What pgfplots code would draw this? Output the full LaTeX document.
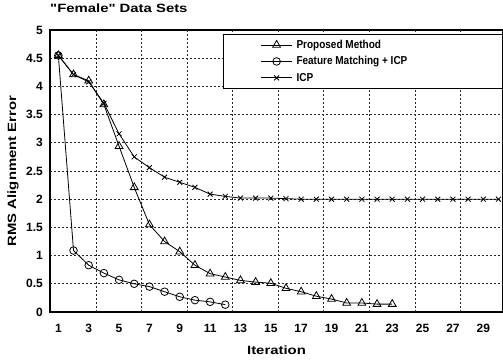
\documentclass[border=0pt]{standalone}
\usepackage{fontspec}
\setmainfont{Liberation Sans}
\newfontfamily\widefont{Liberation Sans}[FakeStretch=1.24]
\newfontfamily\narrowfont{Liberation Sans}[FakeStretch=0.87]
\usepackage{pgfplots}
\pgfplotsset{compat=1.18}
\begin{document}
\begin{tikzpicture}
\begin{axis}[
  name=ax, at={(0pt,0pt)}, anchor=south west,
  scale only axis, width=453pt, height=282pt,
  xmin=0.45, xmax=30.3, ymin=0, ymax=5,
  xtick={1,3,...,29}, ytick={0,0.5,...,5},
  major tick length=0pt,
  /pgf/number format/assume math mode=true,
  ticklabel style={font=\fontsize{12}{12}\selectfont\bfseries},
  xticklabel style={inner sep=0pt, anchor=north, yshift=-12pt},
  yticklabel style={inner sep=0pt, anchor=east, xshift=-7pt},
  ymajorgrids, xmajorgrids=false,
  extra x ticks={3.5,6.5,...,27.5}, extra x tick labels={},
  extra x tick style={xmajorgrids=true, major tick length=0pt},
  grid style={black!85, line width=0.9pt, dash pattern=on 1.6pt off 2.4pt},
  axis line style={line width=1.2pt},
  title={\widefont\bfseries\fontsize{12}{12}\selectfont "Female" Data Sets},
  title style={at={(0,1)}, anchor=base west, yshift=12pt, inner sep=0pt},
  xlabel={\widefont\bfseries\fontsize{12}{12}\selectfont Iteration},
  xlabel style={at={(axis description cs:0.5,0)}, anchor=center, yshift=-38pt},
  ylabel={\widefont\bfseries\fontsize{12}{12}\selectfont RMS Alignment Error},
  ylabel style={at={(axis description cs:-0.0817,0.5)}, anchor=center},
  legend style={at={(1,1)}, anchor=north east, yshift=-4pt,
    draw=black, line width=1pt, inner xsep=37pt, inner ysep=5.5pt,
    column sep=4pt, row sep=6.7pt,
    font=\narrowfont\bfseries\fontsize{11.5}{11.5}\selectfont,
    nodes={inner sep=0pt, anchor=west}},
  legend cell align=left,
  legend image code/.code={\draw[mark repeat=2,mark phase=2] plot coordinates {(0pt,0pt) (15.5pt,0pt) (31pt,0pt)};},
  every axis plot/.append style={black, line width=0.8pt, mark options={solid, fill=white, line width=0.8pt}},
]
\addplot[mark=triangle, mark size=4.5pt] coordinates {
(1,4.55) (2,4.21) (3,4.1) (4,3.68) (5,2.94) (6,2.21) (7,1.55) (8,1.25) (9,1.07)
(10,0.83) (11,0.68) (12,0.62) (13,0.56) (14,0.53) (15,0.51) (16,0.42) (17,0.36)
(18,0.28) (19,0.23) (20,0.16) (21,0.16) (22,0.14) (23,0.14)};
\addlegendentry{\makebox[169pt][l]{Proposed Method}}
\addplot[mark=o, mark size=3.8pt] coordinates {
(1,4.55) (2,1.09) (3,0.83) (4,0.69) (5,0.57) (6,0.5) (7,0.45) (8,0.36) (9,0.27)
(10,0.21) (11,0.18) (12,0.13)};
\addlegendentry{\makebox[169pt][l]{Feature Matching + ICP}}
\addplot[mark=x, mark size=3.5pt] coordinates {
(1,4.55) (2,4.21) (3,4.08) (4,3.7) (5,3.16) (6,2.75) (7,2.56) (8,2.39) (9,2.3)
(10,2.21) (11,2.09) (12,2.05) (13,2.02) (14,2.02) (15,2.02) (16,2.01) (17,2.0)
(18,2.0) (19,2.0) (20,2.0) (21,2.0) (22,2.0) (23,2.0) (24,2.0) (25,2.0) (26,2.0)
(27,2.0) (28,2.0) (29,2.0) (30,2.0)};
\addlegendentry{\makebox[169pt][l]{ICP}}
\end{axis}
\pgfresetboundingbox
\path[use as bounding box] (-50pt,-48pt) rectangle (453pt,312pt);
\end{tikzpicture}
\end{document}
